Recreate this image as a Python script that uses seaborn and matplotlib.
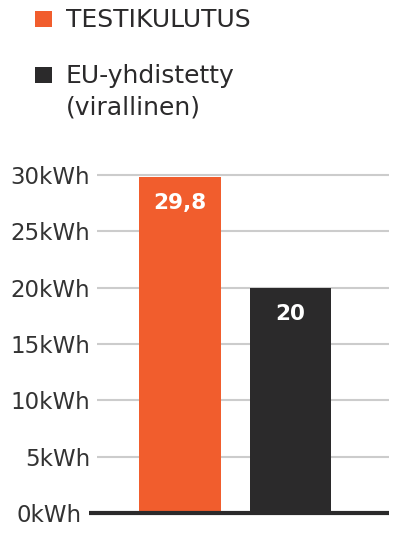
import matplotlib
matplotlib.use("Agg")
import matplotlib.pyplot as plt
import matplotlib.transforms as mtransforms
from matplotlib.patches import Rectangle
import seaborn as sns
import pandas as pd

categories = ["TESTIKULUTUS", "EU-yhdistetty (virallinen)"]
values = [29.8, 20]
value_labels = ["29,8", "20"]
colors = ["#F15D2D", "#2B2A2B"]
yticks = [0, 5, 10, 15, 20, 25, 30]
ytick_labels = [f"{t}kWh" for t in yticks]

sns.set_theme(style="white")
plt.rcParams['font.family'] = ['DejaVu Sans']

W, H = 398, 543
fig = plt.figure(figsize=(W / 100, H / 100), dpi=100)
ax = fig.add_axes([97 / W, 1 - 513 / H, (389 - 97) / W, (513 - 171.6) / H])

df = pd.DataFrame({"cat": categories, "val": values})
sns.barplot(data=df, x="cat", y="val", hue="cat", palette=colors, width=0.74,
            saturation=1, legend=False, ax=ax, zorder=3, linewidth=0, edgecolor="none")

ax.set_xlim(-0.75, 1.89)
ax.set_ylim(0, 30.3)
ax.set_yticks(yticks)
ax.set_yticklabels(ytick_labels, fontsize=16.5, color="#333333")
ax.tick_params(axis="y", length=0, pad=5)
ax.set_xticks([])
ax.set_xlabel("")
ax.set_ylabel("")
for s in ax.spines.values():
    s.set_visible(False)
ax.yaxis.grid(True, color="#cccccc", linewidth=1.5, zorder=0)
ax.set_axisbelow(True)

# shift 0kWh label left
lbl0 = ax.get_yticklabels()[0]
lbl0.set_transform(lbl0.get_transform() + mtransforms.ScaledTranslation(-8 / 100, 0, fig.dpi_scale_trans))

# baseline
trans = mtransforms.blended_transform_factory(ax.transAxes, ax.transData)
ax.plot([-8 / 292, 1], [0, 0], transform=trans, color="#2B2A2B", linewidth=3,
        clip_on=False, zorder=5, solid_capstyle="butt")

for i, cont in enumerate(ax.containers):
    ax.bar_label(cont, labels=[value_labels[i]], padding=-26, color="white",
                 fontsize=15.5, fontweight="bold", zorder=6)

# legend
def px(x, y):
    return x / W, 1 - y / H

leg_items = [
    (colors[0], 11, ["TESTIKULUTUS"], 27),
    (colors[1], 67, ["EU-yhdistetty", "(virallinen)"], 83),
]
for col, sy, lines, base in leg_items:
    x0, y0 = px(35, sy + 16)
    fig.patches.append(Rectangle((x0, y0), 17 / W, 16 / H, transform=fig.transFigure,
                                 facecolor=col, edgecolor="none"))
    for j, line in enumerate(lines):
        tx, ty = px(66, base + 31 * j)
        fig.text(tx, ty, line, fontsize=18, color="#2B2A2B", va="baseline", ha="left")

fig.savefig("out.png", dpi=100)
